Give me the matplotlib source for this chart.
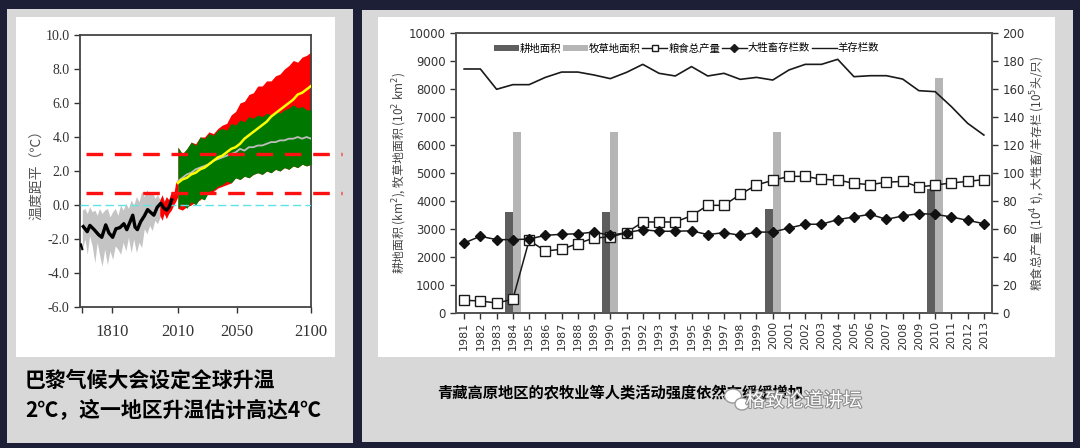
import numpy as np
import matplotlib.pyplot as plt
from matplotlib.patches import Rectangle, Patch, Ellipse
from matplotlib.lines import Line2D
import matplotlib.patheffects as pe

W, H = 1080, 448
cjk = ['Noto Sans CJK SC', 'DejaVu Sans']
serif = ['Liberation Serif', 'DejaVu Serif']

# ---------------- panneau gauche : anomalie de temperature ----------------
hist_years = [1720, 1728, 1735, 1742, 1750, 1758, 1765, 1772, 1780, 1788, 1796, 1804,
              1812, 1820, 1828, 1836, 1844, 1852, 1860, 1868, 1876, 1884, 1892, 1900,
              1908, 1916, 1924, 1932, 1940, 1948, 1956, 1964, 1972, 1980, 1990]
hist_hi = [-0.3, -0.2, -0.5, -0.1, -0.4, -0.3, -0.6, -0.2, -0.5, -0.3, -0.2, -0.7,
           -0.4, -0.2, -0.6, 0.0, -0.3, 0.1, -0.2, 0.3, 0.0, 0.5, 0.2, 0.8,
           0.5, 0.9, 0.6, 0.8, 0.4, 0.6, 0.3, 0.5, 0.2, 0.4, 0.3]
hist_lo = [-2.6, -2.0, -2.9, -1.8, -2.4, -3.4, -2.2, -2.9, -3.6, -2.6, -3.5, -2.7,
           -3.2, -2.4, -2.6, -2.9, -2.2, -2.7, -1.9, -2.8, -2.0, -2.8, -2.2, -2.5,
           -1.4, -1.7, -1.2, -1.5, -0.9, -1.1, -0.7, -0.6, -0.4, -0.5, -0.2]

recon_years = [1723, 1735, 1743, 1756, 1769, 1779, 1791, 1801, 1812, 1822, 1834, 1846,
               1855, 1865, 1873, 1880, 1887, 1897, 1908, 1918, 1927, 1937, 1947, 1958,
               1968, 1976, 1984, 1991]
recon = [-1.27, -1.57, -1.2, -1.45, -1.74, -1.9, -1.17, -1.65, -1.9, -1.4, -1.33, -1.1,
         -1.45, -0.98, -0.6, -1.3, -1.45, -0.98, -0.65, -0.27, -0.43, -0.6, -0.14, 0.1,
         -0.2, -0.3, -0.1, 0.3]
stub_years = [1713, 1716, 1720]
stub = [-2.4, -2.3, -2.6]

obs_years = [1955, 1962, 1968, 1975, 1982, 1990, 1997, 2003, 2010]
obs_hi = [0.3, 0.6, 0.2, 0.5, 0.3, 0.8, 0.6, 1.3, 1.5]
obs_lo = [-0.6, -0.9, -0.5, -0.8, -0.5, -0.3, 0.0, 0.2, 0.5]

proj_years = list(range(2010, 2101, 3))
red_hi = [3.4, 3.0, 3.3, 3.7, 3.6, 4.0, 4.0, 4.3, 4.2, 4.5, 4.7, 4.8, 5.3, 5.5, 6.0, 6.1,
          6.5, 6.6, 7.0, 7.0, 7.3, 7.3, 7.6, 7.7, 8.0, 8.2, 8.5, 8.4, 8.7, 8.8, 9.0]
red_lo = [-0.2, -0.3, -0.1, 0.0, 0.2, 0.3, 0.6, 0.7, 0.8, 1.0, 1.1, 1.2, 1.3, 1.6, 1.5, 1.7,
          1.6, 1.8, 1.9, 1.8, 2.0, 1.9, 2.1, 2.0, 2.2, 2.1, 2.3, 2.2, 2.4, 2.3, 2.4]
green_hi = [3.4, 3.0, 3.3, 3.7, 3.5, 4.0, 3.9, 4.2, 4.1, 4.4, 4.5, 4.4, 4.8, 4.7, 5.0, 4.9,
            5.2, 5.1, 5.3, 5.2, 5.4, 5.3, 5.5, 5.4, 5.6, 5.7, 5.9, 5.7, 5.8, 5.6, 5.6]
green_lo = [-0.2, 0.1, -0.2, 0.2, 0.0, 0.4, 0.3, 0.8, 0.9, 1.1, 1.2, 1.4, 1.3, 1.6, 1.5, 1.7,
            1.6, 1.8, 1.9, 1.8, 2.0, 1.9, 2.1, 2.0, 2.2, 2.1, 2.3, 2.2, 2.4, 2.3, 2.4]
yellow = [1.3, 1.5, 1.6, 1.8, 1.9, 2.1, 2.2, 2.4, 2.6, 2.8, 2.9, 3.1, 3.3, 3.4, 3.6, 3.9,
          4.1, 4.3, 4.5, 4.7, 4.9, 5.2, 5.4, 5.6, 5.8, 6.0, 6.2, 6.5, 6.6, 6.8, 7.0]
grey_line = [1.4, 1.6, 1.8, 1.9, 2.1, 2.2, 2.3, 2.4, 2.6, 2.7, 2.8, 2.9, 3.0, 3.1, 3.3, 3.2,
             3.4, 3.4, 3.5, 3.5, 3.6, 3.7, 3.7, 3.8, 3.8, 3.9, 3.9, 4.0, 3.9, 4.0, 3.9]

seuils = [3.0, 0.7]

# ---------------- panneau droit : activites humaines ----------------
annees = [str(a) for a in range(1981, 2014)]
bar_annees = ['1984', '1990', '2000', '2010']
cropland = [3600, 3600, 3700, 4420]
grassland = [6450, 6450, 6450, 8390]
grain = [9.1, 8.6, 7.1, 9.8, 51.9, 44.3, 45.5, 49.6, 53.6, 54.3,
         57.4, 65.0, 65.0, 65.0, 69.5, 76.9, 76.9, 84.8, 91.4, 94.8,
         97.6, 97.6, 95.5, 95.0, 92.6, 91.7, 93.4, 94.0, 90.0, 91.4,
         92.9, 94.0, 95.3]
betail = [50.0, 54.8, 52.4, 52.4, 52.8, 55.5, 56.2, 56.6, 57.8, 55.5,
          57.4, 59.5, 58.4, 58.4, 58.7, 56.0, 57.4, 55.5, 57.8, 57.8,
          60.7, 63.4, 63.4, 66.7, 68.6, 70.5, 66.9, 69.3, 71.0, 70.5,
          68.6, 66.2, 63.8]
moutons = [174.3, 174.3, 159.8, 163.1, 163.1, 168.3, 172.1, 172.1, 170.0, 167.4,
           171.9, 177.6, 171.2, 169.3, 176.0, 169.3, 171.2, 166.9, 168.3, 166.4,
           173.6, 177.6, 177.6, 181.2, 168.8, 169.5, 169.5, 167.1, 158.8, 158.1,
           147.4, 135.5, 127.1]


def rect(fig, x0, y0, x1, y1, color):
    # coordonnees en pixels, origine en haut a gauche
    fig.add_artist(Rectangle((x0 / W, 1 - y1 / H), (x1 - x0) / W, (y1 - y0) / H,
                             transform=fig.transFigure, facecolor=color,
                             edgecolor='none', zorder=-10))


def ax_box(x0, y0, x1, y1):
    return [x0 / W, 1 - y1 / H, (x1 - x0) / W, (y1 - y0) / H]


fig = plt.figure(figsize=(W / 100, H / 100), dpi=100, facecolor='#1c1f36')
rect(fig, 7, 9, 353, 443, '#d8d8d8')
rect(fig, 16, 17, 335, 357, 'white')
rect(fig, 362, 10, 1073, 442, '#d8d8d8')
rect(fig, 378, 17, 1055, 357, 'white')

# echelle x brisee : avant 2010 compressee
r = 0.33 / 1.48


def fwd(x):
    x = np.asarray(x, dtype=float)
    return np.where(x < 2010, 2010 + (x - 2010) * r, x)


def inv(p):
    p = np.asarray(p, dtype=float)
    return np.where(p < 2010, 2010 + (p - 2010) / r, p)


ax1 = fig.add_axes(ax_box(80, 35, 311, 307))
ax1.set_xscale('function', functions=(fwd, inv))
ax1.set_xlim(1713, 2100)
ax1.set_ylim(-6, 10)

ax1.fill_between(hist_years, hist_lo, hist_hi, color='#c4c4c4', lw=0, zorder=1)
ax1.fill_between(obs_years, obs_lo, obs_hi, color='red', lw=0, zorder=2)
ax1.fill_between(proj_years, red_lo, red_hi, color='red', lw=0, zorder=2)
ax1.fill_between(proj_years, green_lo, green_hi, color='#007800', lw=0, zorder=3)
ax1.plot(proj_years, grey_line, color='#bdbdbd', lw=1.3, zorder=4)
ax1.plot(proj_years, yellow, color='yellow', lw=1.8, zorder=5)
ax1.plot(recon_years, recon, color='black', lw=2.4, zorder=4)
ax1.plot(stub_years, stub, color='black', lw=1.5, zorder=4)
ax1.plot([1713, 2100], [0, 0], color='#5fe3e6', lw=1, dashes=(6, 3), zorder=3)
for s in seuils:
    ax1.plot([1731, 2121], [s, s], color='#ff1010', lw=2.4, dashes=(5, 3.5),
             zorder=6, clip_on=False)

ax1.set_yticks(np.arange(-6, 10.1, 2))
ax1.set_yticklabels(['%.1f' % v for v in np.arange(-6, 10.1, 2)],
                    fontfamily=serif, fontsize=10)
ax1.set_xticks([1720, 1810, 2010, 2050, 2100])
ax1.set_xticklabels(['', '1810', '2010', '2050', '2100'], fontfamily=serif, fontsize=12)
ax1.tick_params(axis='both', direction='out', length=4, width=1, colors='#333333')
ax1.tick_params(axis='x', pad=8)
for sp in ax1.spines.values():
    sp.set_color('#444444')
    sp.set_linewidth(1.3)
ax1.set_ylabel('温度距平（℃）', fontfamily=cjk, fontsize=10, color='#555555', labelpad=1)

fig.text(25 / W, 1 - 380 / H, '巴黎气候大会设定全球升温', fontfamily=cjk,
         fontsize=15, fontweight='bold', va='center', ha='left')
fig.text(25 / W, 1 - 411 / H, '2℃，这一地区升温估计高达4℃', fontfamily=cjk,
         fontsize=15, fontweight='bold', va='center', ha='left')

# ---------------- graphique de droite ----------------
ax = fig.add_axes(ax_box(456, 33, 992, 313))
ax2 = ax.twinx()
x = np.arange(len(annees))
xb = [annees.index(a) for a in bar_annees]

ax.bar(xb, cropland, width=-0.5, align='edge', color='#5e5e5e', lw=0)
ax.bar(xb, grassland, width=0.5, align='edge', color='#b5b5b5', lw=0)
ax.set_ylim(0, 10000)
ax.set_yticks(range(0, 10001, 1000))
ax.set_xlim(-0.5, len(annees) - 0.5)
ax.set_xticks(x)
ax.set_xticklabels(annees, rotation=90, fontsize=8)

ax2.plot(x, moutons, color='#1a1a1a', lw=1.2)
ax2.plot(x, grain, color='#1a1a1a', lw=1.1, marker='s', ms=6.5, mfc='white',
         mec='#1a1a1a', mew=1)
ax2.plot(x, betail, color='#1a1a1a', lw=1.1, marker='D', ms=5.5, mfc='#111111',
         mec='#111111')
ax2.set_ylim(0, 200)
ax2.set_yticks(range(0, 201, 20))

for a in (ax, ax2):
    a.tick_params(direction='out', length=4, width=1, labelsize=8.5, colors='#333333')
    for sp in a.spines.values():
        sp.set_color('#555555')
        sp.set_linewidth(1.3)
ax.tick_params(axis='x', labelsize=8, pad=2)

ax.set_ylabel('耕地面积 (km$^2$), 牧草地面积 (10$^2$ km$^2$)', fontfamily=cjk,
              fontsize=8.5, color='#444444', labelpad=0)
ax2.set_ylabel('粮食总产量 (10$^4$ t), 大牲畜/羊存栏 (10$^5$头/只)', fontfamily=cjk,
               fontsize=8.5, color='#444444', labelpad=3)

handles = [Patch(facecolor='#5e5e5e', label='耕地面积'),
           Patch(facecolor='#b5b5b5', label='牧草地面积'),
           Line2D([], [], color='#1a1a1a', lw=1, marker='s', ms=5, mfc='white',
                  label='粮食总产量'),
           Line2D([], [], color='#1a1a1a', lw=1, marker='D', ms=4, label='大牲畜存栏数'),
           Line2D([], [], color='#1a1a1a', lw=1, label='羊存栏数')]
ax2.legend(handles=handles, loc='center', bbox_to_anchor=(0.43, 0.945), ncol=5,
           frameon=False, prop={'family': cjk, 'size': 7.5}, handlelength=2.4,
           handleheight=0.5, handletextpad=0.1, columnspacing=0.15)

fig.text(620 / W, 1 - 393 / H, '青藏高原地区的农牧业等人类活动强度依然在缓缓增加',
         fontfamily=cjk, fontsize=11, fontweight='bold', ha='center', va='center')

# filigrane (logo + texte)
for cx, cy, w, h in [(733, 396, 17, 14), (742, 404, 14, 12)]:
    fig.add_artist(Ellipse((cx / W, 1 - cy / H), w / W, h / H, transform=fig.transFigure,
                           facecolor='white', edgecolor='#9a9a9a', lw=1, zorder=5))
fig.text(804 / W, 1 - 401 / H, '格致论道讲坛', fontfamily=cjk, fontsize=14,
         color='white', ha='center', va='center', zorder=6,
         path_effects=[pe.withStroke(linewidth=1.5, foreground='#8a8a8a')])

fig.savefig('out.png', dpi=100, facecolor=fig.get_facecolor())
